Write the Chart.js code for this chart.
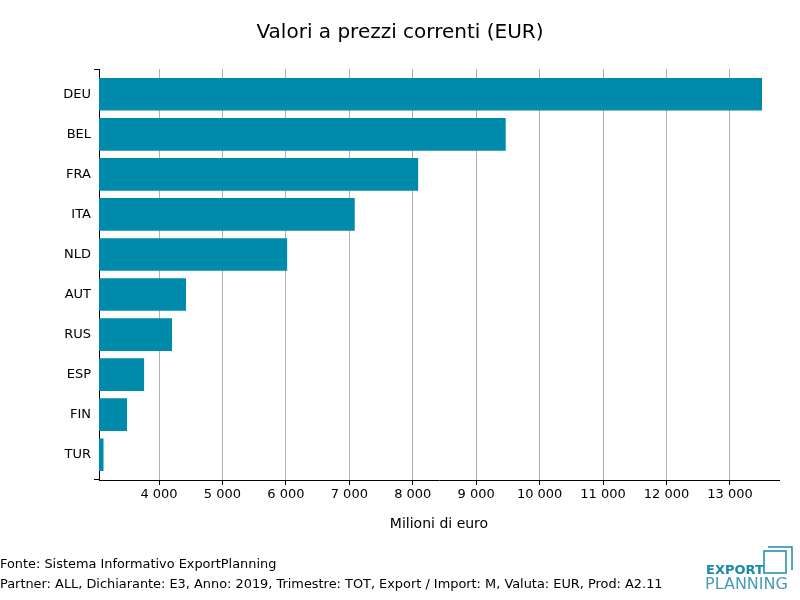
<!DOCTYPE html>
<html><head><meta charset="utf-8">
<script src="https://cdn.jsdelivr.net/npm/chart.js@4"></script>
<style>html,body{margin:0;padding:0;background:#fff}#w{width:800px;height:600px;position:relative}</style>
</head><body><div id="w"><canvas id="c" width="800" height="600"></canvas></div>
<script>
const categories = ["DEU","BEL","FRA","ITA","NLD","AUT","RUS","ESP","FIN","TUR"];
const values = [13500, 9460, 8080, 7080, 6015, 4420, 4200, 3760, 3490, 3120];
const tickValues = [4000,5000,6000,7000,8000,9000,10000,11000,12000,13000];
const FONT = "'DejaVu Sans', sans-serif";
const fmt = v => String(v).replace(/\B(?=(\d{3})+(?!\d))/g, ' ');
const extra = {
  id:'extra',
  afterDraw(ch){
    const c = ch.ctx; c.save();
    c.fillStyle='#000'; c.textBaseline='middle';
    c.font = "20px "+FONT; c.textAlign='center';
    c.fillText("Valori a prezzi correnti (EUR)", 400, 33);
    c.font = "14px "+FONT;
    c.fillText("Milioni di euro", 439, 524);
    c.font = "12.9px "+FONT; c.textAlign='left';
    c.fillText("Fonte: Sistema Informativo ExportPlanning", 0, 565);
    c.fillText("Partner: ALL, Dichiarante: E3, Anno: 2019, Trimestre: TOT, Export / Import: M, Valuta: EUR, Prod: A2.11", 0, 585);
    c.fillStyle='#1a8aa8'; c.font="bold 13px "+FONT;
    c.fillText("EXPORT", 706, 571);
    c.font="16px "+FONT; c.fillStyle='#4a9ab8';
    c.fillText("PLANNING", 705, 585);
    c.strokeStyle='#1a8aa8'; c.lineWidth=1.5;
    c.strokeRect(764,551,22,22);
    c.beginPath(); c.moveTo(768,547); c.lineTo(792,547); c.lineTo(792,570); c.stroke();
    // y spine end ticks
    c.strokeStyle='#000'; c.lineWidth=1;
    const a = ch.chartArea;
    c.beginPath(); c.moveTo(a.left-5,a.top+0.5); c.lineTo(a.left,a.top+0.5);
    c.moveTo(a.left-5,a.bottom-0.5); c.lineTo(a.left,a.bottom-0.5); c.stroke();
    c.restore();
  }
};
new Chart(document.getElementById('c'), {
  type:'bar',
  data:{datasets:[{data:values.map((v,i)=>({x:v,y:i})), backgroundColor:'#008aab', barThickness:32}]},
  options:{
    indexAxis:'y', responsive:false, animation:false,
    layout:{padding:{top:69,right:21,left:0,bottom:0}},
    plugins:{legend:{display:false}, title:{display:false}, tooltip:{enabled:false}},
    scales:{
      x:{type:'linear', min:3054, max:13773,
        afterBuildTicks(s){ s.ticks = tickValues.map(v=>({value:v})); },
        afterFit(s){ s.height = 120; },
        ticks:{callback:v=>fmt(v), color:'#000', font:{family:FONT,size:13}, maxRotation:0, padding:2},
        grid:{color:'#b0b0b0', tickColor:'#000', tickLength:5},
        border:{display:true, color:'#000'}},
      y:{type:'linear', reverse:true, min:-0.63, max:9.63, offset:false,
        afterBuildTicks(s){ s.ticks = categories.map((c,i)=>({value:i})); },
        afterFit(s){ s.width = 99; },
        ticks:{callback:(v)=>categories[v], color:'#000', font:{family:FONT,size:13}, padding:8},
        grid:{drawOnChartArea:false, drawTicks:false},
        border:{display:true, color:'#000'}}
    }
  },
  plugins:[extra]
});
</script></body></html>
